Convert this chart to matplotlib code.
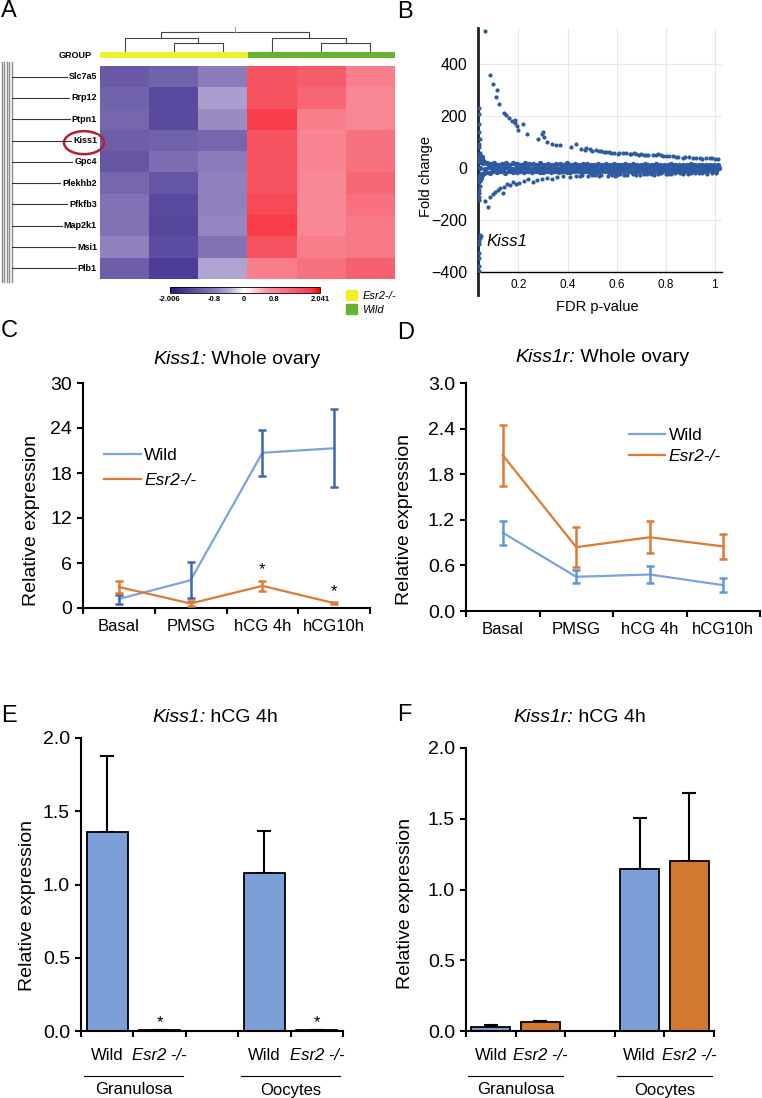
import numpy as np
import matplotlib
matplotlib.use("Agg")
import matplotlib.pyplot as plt
import matplotlib.transforms as mtransforms
from matplotlib.colors import LinearSegmentedColormap
from matplotlib.patches import Ellipse, Patch

plt.rcParams['font.family'] = ['Liberation Sans', 'DejaVu Sans']

# ---------------- data ----------------
# A: heatmap, columns = 3 Esr2-/- then 3 Wild
genes = ['Slc7a5', 'Rrp12', 'Ptpn1', 'Kiss1', 'Gpc4',
         'Plekhb2', 'Pfkfb3', 'Map2k1', 'Msi1', 'Plb1']
heat_vals = [
    [-1.20, -1.10, -0.80, 1.50, 1.35, 0.95],
    [-1.10, -1.40, -0.50, 1.50, 1.25, 0.80],
    [-1.05, -1.40, -0.65, 1.75, 0.95, 0.80],
    [-1.15, -1.10, -1.05, 1.50, 0.85, 1.10],
    [-1.25, -0.95, -0.80, 1.50, 0.85, 1.10],
    [-1.05, -1.25, -0.75, 1.50, 0.80, 1.25],
    [-0.90, -1.40, -0.75, 1.60, 0.80, 1.10],
    [-0.90, -1.45, -0.70, 1.75, 0.80, 1.00],
    [-0.75, -1.35, -0.90, 1.50, 0.95, 1.00],
    [-1.15, -1.55, -0.45, 0.95, 1.10, 1.30],
]
col_groups = ['Esr2-/-', 'Esr2-/-', 'Esr2-/-', 'Wild', 'Wild', 'Wild']
group_colors = {'Esr2-/-': '#eef02a', 'Wild': '#67b232'}
cbar_ticks = [-2.006, -0.8, 0, 0.8, 2.041]
# column dendrogram, scipy style (node a, node b, height); leaves 0..5
col_merges = [(1, 2, 9), (0, 6, 14), (4, 5, 9), (3, 8, 14), (7, 9, 20)]

# B: FDR p-value vs fold change
band_pts = [
    (0.042, 24), (0.057, 19), (0.071, 21), (0.086, 15), (0.101, 19), (0.117, 13), (0.132, 17),
    (0.148, 20), (0.163, 14), (0.179, 18), (0.194, 16), (0.211, 12), (0.226, 19), (0.242, 15),
    (0.258, 17), (0.273, 13), (0.289, 18), (0.305, 14), (0.321, 16), (0.336, 12), (0.352, 17),
    (0.368, 15), (0.383, 13), (0.399, 18), (0.415, 14), (0.431, 16), (0.446, 12), (0.462, 15),
    (0.478, 17), (0.494, 13), (0.509, 14), (0.525, 16), (0.541, 12), (0.557, 15), (0.572, 13),
    (0.588, 17), (0.604, 14), (0.620, 12), (0.635, 16), (0.651, 13), (0.667, 15), (0.683, 11),
    (0.698, 14), (0.714, 16), (0.730, 12), (0.746, 13), (0.761, 15), (0.777, 11), (0.793, 14),
    (0.809, 12), (0.824, 16), (0.840, 13), (0.856, 11), (0.872, 14), (0.887, 12), (0.903, 15),
    (0.919, 13), (0.935, 11), (0.950, 14), (0.966, 12), (0.982, 13), (0.998, 11), (1.014, 12),
    (0.045, 2), (0.062, -3), (0.078, 4), (0.094, -1), (0.110, 3), (0.125, -4), (0.141, 1),
    (0.157, 5), (0.172, -2), (0.188, 2), (0.204, -3), (0.219, 4), (0.235, 0), (0.251, -2),
    (0.266, 3), (0.282, -1), (0.298, 2), (0.313, -4), (0.329, 1), (0.345, 4), (0.360, -2),
    (0.376, 0), (0.392, 3), (0.407, -3), (0.423, 1), (0.439, 2), (0.454, -1), (0.470, 4),
    (0.486, -3), (0.501, 0), (0.517, 2), (0.533, -2), (0.548, 3), (0.564, -1), (0.580, 1),
    (0.595, -3), (0.611, 2), (0.627, 0), (0.642, -2), (0.658, 3), (0.674, -1), (0.689, 1),
    (0.705, -3), (0.721, 2), (0.736, 0), (0.752, -2), (0.768, 3), (0.783, -1), (0.799, 1),
    (0.815, -3), (0.830, 2), (0.846, 0), (0.862, -2), (0.877, 1), (0.893, -1), (0.909, 2),
    (0.924, -2), (0.940, 0), (0.956, 1), (0.971, -1), (0.987, 2), (1.003, -2), (1.018, 0),
    (0.048, -22), (0.066, -14), (0.082, -18), (0.098, -11), (0.114, -16), (0.129, -12),
    (0.145, -17), (0.161, -10), (0.176, -15), (0.192, -13), (0.208, -11), (0.223, -16),
    (0.239, -12), (0.255, -14), (0.270, -10), (0.286, -15), (0.302, -13), (0.317, -11),
    (0.333, -16), (0.349, -12), (0.364, -14), (0.380, -10), (0.396, -13), (0.411, -15),
    (0.427, -11), (0.443, -12), (0.458, -14), (0.474, -10), (0.490, -13), (0.505, -11),
    (0.521, -15), (0.537, -12), (0.552, -10), (0.568, -13), (0.584, -11), (0.599, -14),
    (0.615, -10), (0.631, -12), (0.646, -11), (0.662, -13), (0.678, -9), (0.693, -12),
    (0.709, -10), (0.725, -11), (0.740, -13), (0.756, -9), (0.772, -11), (0.787, -10),
    (0.803, -12), (0.819, -9), (0.834, -11), (0.850, -10), (0.866, -8), (0.881, -11),
    (0.897, -9), (0.913, -10), (0.928, -8), (0.944, -10), (0.960, -9), (0.975, -8),
    (0.991, -10), (1.007, -9),
    (0.045, 38), (0.050, 30), (0.055, 26), (0.047, -28), (0.052, -25), (0.060, 22), (0.058, -20),
    (0.043, 48), (0.046, -38), (0.050, 42), (0.044, -45),
]
upper_pts = [
    (0.065, 527), (0.082, 359), (0.096, 324), (0.112, 301), (0.108, 273), (0.119, 247),
    (0.139, 213), (0.150, 203), (0.162, 192), (0.173, 183), (0.184, 187), (0.193, 164),
    (0.186, 173), (0.200, 148), (0.220, 171), (0.234, 130), (0.281, 113), (0.295, 132),
    (0.301, 139), (0.304, 122), (0.315, 101), (0.335, 94), (0.355, 88), (0.369, 90),
    (0.416, 82), (0.436, 94), (0.457, 75), (0.477, 78), (0.518, 71), (0.538, 66),
    (0.558, 62), (0.578, 60), (0.605, 56), (0.626, 59), (0.653, 54), (0.673, 57),
    (0.693, 50), (0.720, 52), (0.747, 52), (0.768, 56), (0.788, 48), (0.815, 46),
    (0.842, 43), (0.869, 41), (0.896, 42), (0.923, 38), (0.964, 39), (0.991, 41), (1.015, 36),
    (0.47, 70), (0.49, 72), (0.50, 68), (0.53, 67), (0.55, 64), (0.57, 63), (0.59, 58),
    (0.61, 60), (0.64, 57), (0.66, 55), (0.68, 53), (0.70, 55), (0.71, 51), (0.73, 50),
    (0.76, 49), (0.78, 50), (0.80, 47), (0.83, 45), (0.85, 44), (0.88, 42), (0.91, 40),
    (0.94, 41), (0.95, 37), (0.98, 38), (1.00, 35),
]
lower_pts = [
    (0.065, -126), (0.074, -148), (0.082, -110), (0.096, -99), (0.103, -90), (0.115, -84),
    (0.126, -78), (0.136, -94), (0.143, -71), (0.153, -61), (0.166, -66), (0.177, -52),
    (0.191, -61), (0.204, -56), (0.223, -48), (0.239, -43), (0.258, -52), (0.274, -46),
    (0.295, -42), (0.315, -39), (0.335, -43), (0.358, -34), (0.382, -29), (0.409, -33),
    (0.436, -29), (0.461, -25), (0.484, -32), (0.511, -28), (0.538, -25), (0.565, -29),
    (0.592, -32), (0.615, -24), (0.642, -28), (0.666, -23), (0.696, -27), (0.723, -22),
    (0.754, -25), (0.781, -20), (0.808, -24), (0.839, -19), (0.869, -23), (0.903, -20),
    (0.936, -18), (0.970, -22), (1.004, -17),
    (0.45, -30), (0.50, -27), (0.53, -31), (0.58, -26), (0.60, -28), (0.63, -25),
    (0.68, -26), (0.71, -23), (0.74, -24), (0.77, -22), (0.80, -21), (0.82, -23),
    (0.86, -20), (0.89, -21), (0.92, -19), (0.95, -20), (0.99, -18),
]
axis_pts = [
    (0.040, 232), (0.038, 209), (0.041, 170), (0.039, 140), (0.042, 113), (0.038, 95),
    (0.040, 82), (0.043, 60), (0.039, 45), (0.041, 35), (0.044, 28), (0.038, -30),
    (0.041, -42), (0.039, -55), (0.043, -70), (0.040, -85), (0.038, -97), (0.041, -110),
    (0.039, -122),
    (0.045, -256), (0.048, -262), (0.043, -270), (0.040, -281), (0.038, -292),
    (0.039, -326), (0.038, -345), (0.040, -377), (0.039, -398),
]

# C / D: whole ovary time course
stages = ['Basal', 'PMSG', 'hCG 4h', 'hCG10h']
c_wild = [1.2, 3.7, 20.7, 21.3]
c_wild_err = [0.6, 2.4, 3.1, 5.2]
c_ko = [2.8, 0.6, 2.95, 0.65]
c_ko_err = [0.85, 0.3, 0.7, 0.1]
c_star = [False, False, True, True]
d_wild = [1.03, 0.45, 0.48, 0.34]
d_wild_err = [0.155, 0.085, 0.11, 0.09]
d_ko = [2.05, 0.84, 0.97, 0.85]
d_ko_err = [0.4, 0.26, 0.21, 0.16]
d_star = [False, False, False, False]

# E / F: hCG 4h, sorted cells
cells = ['Granulosa', 'Oocytes']
e_wild = [1.36, 1.08]
e_wild_err = [0.52, 0.285]
e_ko = [0.004, 0.006]
e_ko_err = [0.0, 0.0]
e_star = [True, True]
f_wild = [0.03, 1.143]
f_wild_err = [0.012, 0.36]
f_ko = [0.066, 1.2]
f_ko_err = [0.008, 0.48]
f_star = [False, False]

# ---------------- style ----------------
W, H = 762, 1098
BLUE_LINE = '#7ca3dc'
ORANGE = '#dd7b34'
BAR_BLUE = '#7b9fd6'
BAR_ORANGE = '#d2782f'
DOT = '#2d5aa0'

fig = plt.figure(figsize=(W / 100, H / 100), dpi=100)
renderer = fig.canvas.get_renderer()


def add_ax(x0, y0, x1, y1):
    # axes from pixel box (top-left origin)
    return fig.add_axes([x0 / W, 1 - y1 / H, (x1 - x0) / W, (y1 - y0) / H])


def ftext(x, y, s, **kw):
    return fig.text(x / W, 1 - y / H, s, **kw)


def mixed_title(cx, cy, it_part, rest, fs=14):
    # italic gene name followed by plain text, centred on (cx, cy)
    t1 = ftext(0, cy, it_part, fontsize=fs, style='italic', va='center')
    t2 = ftext(0, cy, rest, fontsize=fs, va='center')
    w1 = t1.get_window_extent(renderer).width
    w2 = t2.get_window_extent(renderer).width
    x0 = cx - (w1 + w2) / 2
    t1.set_x(x0 / W)
    t2.set_x((x0 + w1) / W)


for letter, (lx, ly) in zip('ABCDEF', [(1, 11), (397, 12), (1, 331),
                                       (397, 333), (1, 716), (397, 715)]):
    ftext(lx, ly, letter, fontsize=17, ha='left', va='center')

# ---------------- A ----------------
hm_cmap = LinearSegmentedColormap.from_list('hm', [
    (0.0, '#1f1d78'), (0.100, '#4a3a98'), (0.199, '#6a5aa8'), (0.298, '#8a7cbb'),
    (0.397, '#b5aad4'), (0.4957, '#ffffff'), (0.644, '#fa98a2'), (0.743, '#f87a88'),
    (0.842, '#f65a68'), (0.941, '#fa3a48'), (1.0, '#ff0000')])

axh = add_ax(100, 66, 395, 279)
im = axh.imshow(np.array(heat_vals), cmap=hm_cmap, vmin=cbar_ticks[0], vmax=cbar_ticks[-1],
                aspect='auto', interpolation='nearest')
axh.axis('off')

# group bar
axg = add_ax(100, 52, 395, 58)
ncol = len(col_groups)
axg.bar(np.arange(ncol) + 0.5, 1, width=1.0, color=[group_colors[g] for g in col_groups])
axg.set_xlim(0, ncol)
axg.set_ylim(0, 1)
axg.axis('off')
axg.text(-0.03, 0.5, 'GROUP', transform=axg.transAxes, ha='right', va='center',
         fontsize=6.5, fontweight='bold')

# column dendrogram
axd = add_ax(100, 20, 395, 52)
axd.set_xlim(0, ncol)
axd.set_ylim(0, 32)
axd.axis('off')
pos = {i: i + 0.5 for i in range(ncol)}
hgt = {i: 0 for i in range(ncol)}
for k, (a, b, h) in enumerate(col_merges):
    axd.plot([pos[a], pos[a], pos[b], pos[b]], [hgt[a], h, h, hgt[b]], color='#444', lw=0.8)
    pos[ncol + k] = (pos[a] + pos[b]) / 2
    hgt[ncol + k] = h
root = ncol + len(col_merges) - 1
axd.plot([pos[root]] * 2, [hgt[root], hgt[root] + 5], color='#999', lw=0.8)

# row labels and tree stubs
axl = add_ax(0, 66, 100, 279)
axl.set_xlim(0, 100)
axl.set_ylim(len(genes) - 0.5, -0.5)
axl.axis('off')
for xv in [1.5, 4, 6.5, 9, 11.5]:
    axl.plot([xv, xv], [-0.7, len(genes) - 0.35], color='#8a8a8a', lw=1.0, clip_on=False)
for i, g in enumerate(genes):
    axl.plot([12, 96], [i, i], color='#333', lw=0.8)
    axl.text(97, i, g, ha='right', va='center', fontsize=6.5, fontweight='bold',
             bbox=dict(fc='white', ec='none', pad=0.8))
axl.add_patch(Ellipse((84, genes.index('Kiss1') + 0.1), 40, 1.08, fill=False,
                      ec='#b3202e', lw=1.8, clip_on=False))

# colorbar
cax = add_ax(170, 287, 320, 293)
cb = fig.colorbar(im, cax=cax, orientation='horizontal', ticks=cbar_ticks)
cb.outline.set_linewidth(0.6)
cax.set_xticklabels([f'{t:g}' for t in cbar_ticks], fontsize=5.5, fontweight='bold')
cax.tick_params(length=0, pad=2.5)

# group legend
fig.legend(handles=[Patch(color=group_colors[g]) for g in ['Esr2-/-', 'Wild']],
           labels=['Esr2-/-', 'Wild'], loc='upper left',
           bbox_to_anchor=(338 / W, 1 - 282 / H), frameon=False,
           prop={'style': 'italic', 'size': 8}, handlelength=1.0, handleheight=1.0,
           handletextpad=0.5, labelspacing=0.35, borderpad=0.2)

# ---------------- B ----------------
axb = add_ax(478, 28, 722, 272)
xlo = 0.035
axb.set_xlim(xlo, 1.03)
axb.set_ylim(-400, 540)
xs, ys = zip(*band_pts)
axb.scatter(xs, ys, s=15, color=DOT, linewidths=0, zorder=3)
for pts in (upper_pts, lower_pts, axis_pts):
    xs, ys = zip(*pts)
    axb.scatter(xs, ys, s=9, color=DOT, linewidths=0, zorder=3)
axb.grid(color='#e8e8e8', lw=0.8)
axb.set_axisbelow(True)
axb.spines['top'].set_visible(False)
axb.spines['right'].set_visible(False)
axb.spines['left'].set_linewidth(2)
axb.spines['left'].set_color('#222')
axb.spines['bottom'].set_linewidth(1)
axb.plot([xlo, xlo], [-400, -490], color='#222', lw=2, clip_on=False)
axb.set_yticks([-400, -200, 0, 200, 400])
axb.set_xticks([0.2, 0.4, 0.6, 0.8, 1.0])
axb.set_xticklabels(['0.2', '0.4', '0.6', '0.8', '1'])
axb.tick_params(axis='y', length=0, labelsize=11.5, pad=8)
axb.tick_params(axis='x', length=0, labelsize=8.5, pad=5)
axb.set_ylabel('Fold change', fontsize=10.5)
axb.yaxis.set_label_coords(-0.185, 0.39)
axb.set_xlabel('FDR p-value', fontsize=10.5)
axb.xaxis.set_label_coords(0.488, -0.115)
axb.text(0.07, -284, 'Kiss1', fontsize=12, style='italic', va='center', ha='left')


# ---------------- C / D ----------------
def style_axes(ax):
    for s in ('top', 'right'):
        ax.spines[s].set_visible(False)
    for s in ('left', 'bottom'):
        ax.spines[s].set_linewidth(1.5)


def line_panel(ax, wild, wild_err, ko, ko_err, star, ymax, step, fmt, werr_color):
    x = np.arange(len(stages)) + 0.5
    ax.plot(x, wild, color=BLUE_LINE, lw=1.6, label='Wild', zorder=3)
    ax.plot(x, ko, color=ORANGE, lw=1.6, label='Esr2-/-', zorder=3)
    ax.errorbar(x, wild, yerr=wild_err, fmt='none', ecolor=werr_color, elinewidth=1.8,
                capsize=3, capthick=1.8, zorder=4)
    ax.errorbar(x, ko, yerr=ko_err, fmt='none', ecolor=ORANGE, elinewidth=1.8,
                capsize=3, capthick=1.8, zorder=4)
    for xi, v, e, s in zip(x, ko, ko_err, star):
        if s:
            ax.text(xi, v + e + ymax * 0.05, '*', ha='center', va='center', fontsize=12)
    style_axes(ax)
    ax.set_xlim(0, len(stages))
    ax.set_ylim(0, ymax)
    ticks = np.arange(0, ymax + step / 2, step)
    ax.set_yticks(ticks)
    ax.set_yticklabels([fmt.format(t) for t in ticks])
    ax.set_xticks(np.arange(len(stages) + 1))
    ax.set_xticklabels([])
    ax.set_xticks(x, minor=True)
    ax.set_xticklabels(stages, minor=True)
    ax.tick_params(axis='x', which='major', direction='out', length=4, width=1.5)
    ax.tick_params(axis='x', which='minor', length=0, labelsize=12, pad=8)
    ax.tick_params(axis='y', direction='out', length=4, width=1.5, labelsize=14, pad=4)
    ax.set_ylabel('Relative expression', fontsize=14)


axc = add_ax(83, 383, 370, 608)
line_panel(axc, c_wild, c_wild_err, c_ko, c_ko_err, c_star, 30, 6, '{:.0f}', '#3f67ae')
axc.yaxis.set_label_coords(-0.15, 0.39)
leg = axc.legend(loc='upper left', bbox_to_anchor=(0.02, 0.78), frameon=False, fontsize=12.5,
                 handlelength=2.1, handletextpad=0.2, labelspacing=0.55)
leg.get_texts()[1].set_fontstyle('italic')
mixed_title(237, 360, 'Kiss1:', ' Whole ovary')

axdd = add_ax(466, 383, 760, 611)
line_panel(axdd, d_wild, d_wild_err, d_ko, d_ko_err, d_star, 3.0, 0.6, '{:.1f}', '#5f98d6')
axdd.yaxis.set_label_coords(-0.18, 0.40)
leg = axdd.legend(loc='upper left', bbox_to_anchor=(0.5, 0.87), frameon=False, fontsize=12.5,
                  handlelength=2.1, handletextpad=0.2, labelspacing=0.3)
leg.get_texts()[1].set_fontstyle('italic')
mixed_title(602, 357, 'Kiss1r:', ' Whole ovary')


# ---------------- E / F ----------------
def bar_panel(ax, wild, wild_err, ko, ko_err, star):
    n = len(cells)
    xw = np.array([3 * g + 0.5 for g in range(n)])
    xk = xw + 1
    ax.bar(xw, wild, width=0.78, color=BAR_BLUE, edgecolor='black', lw=1.3, zorder=2)
    ax.bar(xk, ko, width=0.78, color=BAR_ORANGE, edgecolor='black', lw=1.3, zorder=2)
    ax.errorbar(xw, wild, yerr=[np.zeros(n), wild_err], fmt='none', ecolor='black',
                elinewidth=1.5, capsize=5, capthick=1.5, zorder=1)
    ax.errorbar(xk, ko, yerr=[np.zeros(n), ko_err], fmt='none', ecolor='black',
                elinewidth=1.5, capsize=5, capthick=1.5, zorder=1)
    for xi, v, e, s in zip(xk, ko, ko_err, star):
        if s:
            ax.text(xi, v + e + 0.05, '*', ha='center', va='center', fontsize=12)
    style_axes(ax)
    ax.set_xlim(0, 3 * n - 1)
    ax.set_ylim(0, 2.0)
    ax.set_yticks([0, 0.5, 1.0, 1.5, 2.0])
    ax.set_yticklabels(['0.0', '0.5', '1.0', '1.5', '2.0'])
    ax.set_xticks(np.arange(3 * n))
    ax.set_xticklabels([])
    cats = np.concatenate([xw, xk])
    ax.set_xticks(np.sort(cats), minor=True)
    ax.set_xticklabels(['Wild', 'Esr2 -/-'] * n, minor=True)
    for lbl in ax.get_xticklabels(minor=True)[1::2]:
        lbl.set_fontstyle('italic')
    ax.tick_params(axis='x', which='major', direction='out', length=4, width=1.5)
    ax.tick_params(axis='x', which='minor', length=0, labelsize=12, pad=12)
    ax.tick_params(axis='y', direction='out', length=4, width=1.5, labelsize=14, pad=4)
    ax.set_ylabel('Relative expression', fontsize=14)
    tr = mtransforms.blended_transform_factory(ax.transData, ax.transAxes)
    line_off = tr + mtransforms.ScaledTranslation(0, -0.45, fig.dpi_scale_trans)
    text_off = tr + mtransforms.ScaledTranslation(0, -0.59, fig.dpi_scale_trans)
    for g, name in enumerate(cells):
        ax.plot([3 * g + 0.05, 3 * g + 1.95], [0, 0], color='black', lw=0.8,
                transform=line_off, clip_on=False)
        ax.text(3 * g + 1.0, 0, name, transform=text_off, ha='center', va='center',
                fontsize=12)


axe = add_ax(81, 738, 343, 1031)
bar_panel(axe, e_wild, e_wild_err, e_ko, e_ko_err, e_star)
axe.yaxis.set_label_coords(-0.17, 0.43)
mixed_title(215, 718, 'Kiss1:', ' hCG 4h')

axf = add_ax(466, 748, 714, 1031)
bar_panel(axf, f_wild, f_wild_err, f_ko, f_ko_err, f_star)
axf.yaxis.set_label_coords(-0.21, 0.45)
mixed_title(580, 718, 'Kiss1r:', ' hCG 4h')

fig.savefig('out.png', dpi=100)
